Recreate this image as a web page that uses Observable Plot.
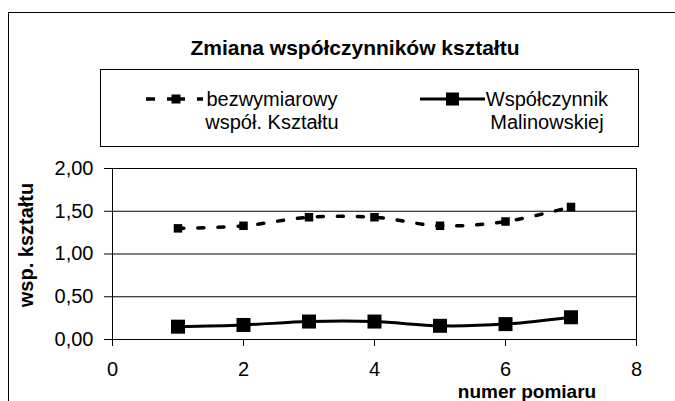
<!DOCTYPE html>
<html>
<head>
<meta charset="utf-8">
<script src="https://cdn.jsdelivr.net/npm/d3@7"></script>
<script src="https://cdn.jsdelivr.net/npm/@observablehq/plot@0.6"></script>
<style>
  html, body { margin: 0; padding: 0; background: #fff; }
  #chart { position: relative; width: 675px; height: 401px; overflow: hidden; background: #fff;
           font-family: "Liberation Sans", Arial, sans-serif; color: #000; }
  .abs { position: absolute; white-space: nowrap; }
</style>
</head>
<body>
<div id="chart"></div>
<script>
// ---- data ----
const pomiar = [1, 2, 3, 4, 5, 6, 7];
const bezwymiarowy = [1.30, 1.33, 1.43, 1.43, 1.33, 1.38, 1.55];
const malinowskiej = [0.15, 0.17, 0.21, 0.21, 0.16, 0.18, 0.26];
const xTicks = [0, 2, 4, 6, 8];
const yTicks = [0, 0.5, 1, 1.5, 2];
const titleText = "Zmiana współczynników kształtu";
const seriesLabels = [["bezwymiarowy", "współ. Kształtu"], ["Współczynnik", "Malinowskiej"]];
const xLabel = "numer pomiaru";
const yLabel = "wsp. kształtu";

const s1 = pomiar.map((x, i) => ({x, y: bezwymiarowy[i]}));
const s2 = pomiar.map((x, i) => ({x, y: malinowskiej[i]}));

const chart = document.getElementById("chart");

// outer border (left and top visible)
const border = document.createElement("div");
border.className = "abs";
Object.assign(border.style, {left: "8px", top: "12px", width: "720px", height: "500px",
  borderLeft: "1px solid #000", borderTop: "1px solid #000"});
chart.appendChild(border);

// title
const title = document.createElement("div");
title.className = "abs";
title.textContent = titleText;
Object.assign(title.style, {left: "355px", top: "48px", transform: "translate(-50%,-50%)",
  fontWeight: "bold", fontSize: "21px"});
chart.appendChild(title);

// legend box
const legend = document.createElement("div");
legend.className = "abs";
Object.assign(legend.style, {left: "100px", top: "69px", width: "539px", height: "78px",
  border: "1px solid #000", boxSizing: "border-box"});
chart.appendChild(legend);

// legend swatches
const ns = "http://www.w3.org/2000/svg";
const sw = document.createElementNS(ns, "svg");
sw.setAttribute("width", 675); sw.setAttribute("height", 160);
Object.assign(sw.style, {position: "absolute", left: "0px", top: "0px"});
function el(tag, attrs) { const e = document.createElementNS(ns, tag); for (const k in attrs) e.setAttribute(k, attrs[k]); sw.appendChild(e); return e; }
// entry 1: dashed with small marker
el("line", {x1: 176, y1: 99, x2: 140, y2: 99, stroke: "#000", "stroke-width": 3.5, "stroke-dasharray": "9,12"});
el("line", {x1: 176, y1: 99, x2: 203, y2: 99, stroke: "#000", "stroke-width": 3.5, "stroke-dasharray": "9,12"});
el("rect", {x: 171.5, y: 94.5, width: 9, height: 9, fill: "#000"});
// entry 2: solid with big marker
el("line", {x1: 420, y1: 99, x2: 485, y2: 99, stroke: "#000", "stroke-width": 3});
el("rect", {x: 446, y: 92.5, width: 13, height: 13, fill: "#000"});
chart.appendChild(sw);

// legend texts
function legendText(lines, cx) {
  const d = document.createElement("div");
  d.className = "abs";
  Object.assign(d.style, {left: cx + "px", top: "111px", transform: "translate(-50%,-50%)",
    fontSize: "20px", lineHeight: "23px", textAlign: "center"});
  d.innerHTML = lines.join("<br>");
  chart.appendChild(d);
}
legendText(seriesLabels[0], 272);
legendText(seriesLabels[1], 547);

// plot
const plot = Plot.plot({
  width: 675, height: 251,
  marginLeft: 112, marginRight: 39, marginTop: 18, marginBottom: 62,
  x: {domain: [0, 8]},
  y: {domain: [0, 2]},
  style: {fontFamily: "'Liberation Sans', Arial, sans-serif", fontSize: "20px", color: "#000",
    background: "transparent", overflow: "visible"},
  marks: [
    Plot.gridY(yTicks, {stroke: "#000", strokeOpacity: 1}),
    Plot.frame({stroke: "#000"}),
    Plot.axisY(yTicks, {tickSize: 8, tickPadding: 11, label: null, fontSize: 20,
      tickFormat: d => d.toFixed(2).replace(".", ",")}),
    Plot.axisX(xTicks, {tickSize: 7, tickPadding: 15, label: null, fontSize: 20, tickFormat: d => String(d)}),
    Plot.line(s1, {x: "x", y: "y", curve: "catmull-rom", stroke: "#000", strokeWidth: 3.5, strokeDasharray: "6,14"}),
    Plot.dot(s1, {x: "x", y: "y", symbol: "square", r: 4.8, fill: "#000", stroke: "none"}),
    Plot.line(s2, {x: "x", y: "y", curve: "catmull-rom", stroke: "#000", strokeWidth: 3}),
    Plot.dot(s2, {x: "x", y: "y", symbol: "square", r: 7.9, fill: "#000", stroke: "none"})
  ]
});
Object.assign(plot.style, {position: "absolute", left: "0px", top: "150px"});
chart.appendChild(plot);

// axis titles
const xl = document.createElement("div");
xl.className = "abs";
xl.textContent = xLabel;
Object.assign(xl.style, {left: "527px", top: "391px", transform: "translate(-50%,-50%)",
  fontWeight: "bold", fontSize: "19px", lineHeight: "17px"});
chart.appendChild(xl);

const yl = document.createElement("div");
yl.className = "abs";
yl.textContent = yLabel;
Object.assign(yl.style, {left: "26px", top: "245px", transform: "translate(-50%,-50%) rotate(-90deg)",
  fontWeight: "bold", fontSize: "20px"});
chart.appendChild(yl);
</script>
</body>
</html>
